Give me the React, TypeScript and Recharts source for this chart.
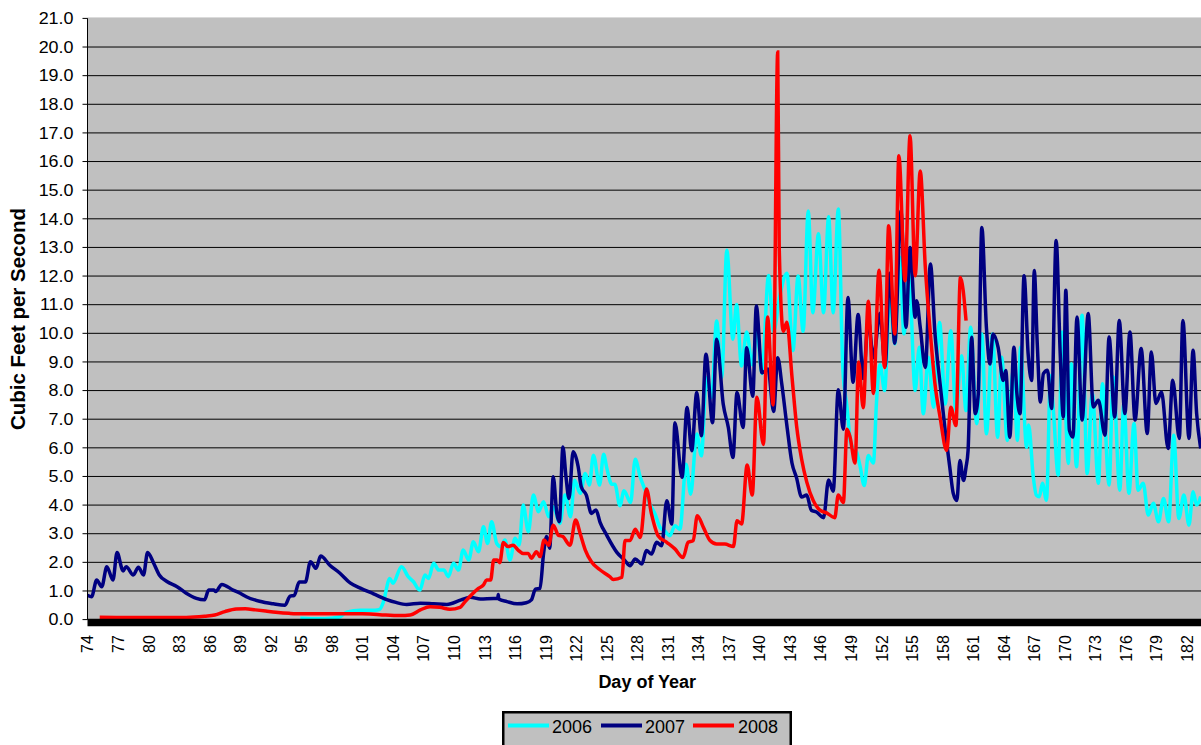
import React from 'react';
import { LineChart, Line, XAxis, YAxis, CartesianGrid, Legend, ReferenceLine } from 'recharts';

const FONT = '"Liberation Sans", Arial, Helvetica, sans-serif';

// x-axis tick labels (day of year) and y-axis ticks (cfs)
const dayTicks = [74, 77, 80, 83, 86, 89, 92, 95, 98, 101, 104, 107, 110, 113, 116, 119, 122, 125, 128, 131, 134, 137, 140, 143, 146, 149, 152, 155, 158, 161, 164, 167, 170, 173, 176, 179, 182];
const cfsTicks = [0, 1, 2, 3, 4, 5, 6, 7, 8, 9, 10, 11, 12, 13, 14, 15, 16, 17, 18, 19, 20, 21];
const dayDomain: [number, number] = [74, 183.38];
const cfsMax = 21;

// [day of year, cubic feet per second]
const flow2006: [number, number][] = [
  [94.9, 0.05], [96.5, 0.03], [98.0, 0.05], [98.8, 0.1], [99.45, 0.26], [100.8, 0.33], [102.25, 0.33], [102.7, 0.36],
  [103.05, 0.6], [103.7, 1.44], [104.0, 1.27], [104.85, 1.85], [105.5, 1.5], [106.0, 1.33], [106.65, 1.03], [107.15, 1.56],
  [107.5, 1.44], [108.0, 1.97], [108.5, 1.73], [109.0, 1.73], [109.45, 1.5], [109.95, 1.97], [110.45, 1.73], [110.9, 2.43],
  [111.45, 2.08], [111.9, 2.72], [112.4, 2.37], [112.9, 3.24], [113.3, 2.66], [113.7, 3.42], [114.2, 2.66], [114.6, 2.55],
  [115.0, 2.78], [115.5, 2.08], [116.0, 2.84], [116.4, 2.6], [116.8, 4.0], [117.3, 3.07], [117.8, 4.35], [118.3, 3.77],
  [118.8, 4.12], [119.3, 3.59], [119.75, 3.94], [120.4, 3.36], [120.9, 4.35], [121.45, 3.59], [121.85, 4.87], [122.4, 4.41],
  [122.9, 5.1], [123.3, 4.7], [123.7, 5.74], [124.3, 4.7], [124.7, 5.78], [125.0, 5.31], [125.5, 4.73], [125.8, 4.73],
  [126.3, 3.98], [126.7, 4.5], [127.35, 4.09], [127.8, 5.6], [128.3, 4.97], [128.8, 4.5], [129.25, 4.03], [129.75, 3.69],
  [130.25, 3.22], [130.7, 3.1], [131.2, 2.93], [131.7, 3.28], [132.2, 3.16], [132.8, 5.43], [133.25, 4.38], [133.85, 6.48],
  [134.3, 5.72], [134.8, 8.45], [135.3, 7.76], [135.8, 10.43], [136.3, 8.45], [136.8, 12.9], [137.4, 9.79], [137.75, 11.01],
  [138.25, 8.86], [138.75, 10.05], [139.3, 8.9], [139.75, 10.1], [140.25, 8.6], [140.9, 12.02], [141.4, 10.07], [142.0, 11.3],
  [142.7, 12.1], [143.3, 9.4], [143.8, 12.0], [144.3, 10.07], [144.8, 14.27], [145.25, 10.72], [145.8, 13.48], [146.3, 10.72],
  [146.8, 14.07], [147.25, 10.72], [147.75, 14.34], [148.2, 8.75], [148.6, 7.44], [149.0, 6.12], [149.55, 5.86], [149.9, 5.34],
  [150.3, 4.68], [150.7, 5.73], [151.2, 5.47], [151.5, 7.57], [151.85, 8.9], [152.3, 8.0], [152.8, 11.37], [153.3, 9.63],
  [153.8, 12.65], [154.2, 9.98], [154.7, 12.07], [155.3, 8.0], [155.7, 9.51], [156.1, 7.19], [156.6, 9.16], [157.1, 7.42],
  [157.7, 10.38], [158.25, 7.53], [158.8, 10.09], [159.3, 7.3], [159.85, 9.22], [160.3, 7.3], [160.75, 10.21], [161.35, 6.84],
  [161.85, 9.98], [162.3, 6.49], [162.9, 9.98], [163.4, 6.37], [163.8, 9.16], [164.35, 6.26], [164.95, 8.7], [165.35, 6.26],
  [165.65, 9.51], [166.25, 6.02], [166.45, 6.8], [166.9, 5.0], [167.2, 4.35], [167.5, 4.29], [167.8, 4.76], [168.2, 4.17],
  [168.6, 8.53], [168.9, 7.2], [169.35, 5.05], [169.75, 10.05], [170.35, 5.45], [170.65, 8.94], [171.15, 5.34], [171.7, 10.63],
  [172.2, 5.1], [172.7, 7.9], [173.3, 4.76], [173.7, 8.24], [174.35, 4.7], [174.75, 8.48], [175.4, 4.52], [175.8, 7.55],
  [176.3, 4.41], [176.8, 6.85], [177.2, 4.52], [177.7, 4.76], [178.2, 3.65], [178.7, 4.06], [179.2, 3.42], [179.7, 4.23],
  [180.2, 3.42], [180.7, 6.44], [181.2, 3.53], [181.7, 4.35], [182.2, 3.3], [182.6, 4.47], [182.95, 4.0], [183.35, 4.3],
];

const flow2007: [number, number][] = [
  [74.0, 0.85], [74.4, 0.8], [74.9, 1.38], [75.4, 1.15], [75.9, 1.85], [76.5, 1.38], [76.9, 2.34], [77.5, 1.7],
  [77.8, 1.85], [78.5, 1.56], [79.0, 1.83], [79.5, 1.56], [79.9, 2.34], [80.5, 1.97], [81.05, 1.56], [81.8, 1.33],
  [82.8, 1.15], [83.7, 0.92], [84.7, 0.74], [85.5, 0.69], [85.9, 1.03], [86.4, 1.03], [86.6, 0.98], [87.2, 1.23],
  [88.3, 1.03], [89.0, 0.92], [89.6, 0.8], [90.9, 0.64], [92.25, 0.55], [93.4, 0.5], [93.9, 0.82], [94.3, 0.84],
  [94.8, 1.31], [95.4, 1.31], [95.9, 2.02], [96.45, 1.79], [96.9, 2.22], [97.8, 1.9], [98.8, 1.62], [99.8, 1.28],
  [100.8, 1.1], [102.1, 0.9], [103.4, 0.7], [104.3, 0.6], [105.35, 0.53], [106.7, 0.57], [108.0, 0.55], [109.3, 0.53],
  [110.7, 0.69], [111.6, 0.78], [112.6, 0.72], [113.9, 0.74], [114.3, 0.74], [114.35, 0.88], [114.4, 0.72], [115.2, 0.63],
  [116.2, 0.55], [117.1, 0.59], [117.6, 0.69], [118.0, 1.06], [118.45, 1.09], [118.8, 2.31], [119.1, 2.9], [119.4, 2.49],
  [119.75, 4.99], [120.1, 3.71], [120.35, 3.42], [120.7, 6.03], [121.0, 5.0], [121.3, 4.23], [121.7, 5.86], [122.2, 5.34],
  [122.5, 4.64], [123.0, 4.35], [123.5, 3.71], [123.95, 3.83], [124.35, 3.4], [125.0, 2.95], [126.0, 2.35], [126.8, 2.06],
  [127.3, 1.88], [127.8, 2.12], [128.45, 1.94], [128.9, 2.41], [129.4, 2.29], [129.9, 2.7], [130.4, 2.58], [130.9, 4.15],
  [131.4, 3.34], [131.7, 6.88], [132.4, 4.97], [132.9, 7.41], [133.35, 5.9], [133.85, 7.93], [134.3, 6.42], [134.75, 9.27],
  [135.4, 6.88], [135.8, 9.79], [136.45, 7.52], [136.95, 6.71], [137.4, 5.66], [137.8, 7.93], [138.4, 6.71], [138.75, 9.5],
  [139.35, 7.8], [139.7, 10.95], [140.25, 8.62], [140.85, 8.75], [141.4, 7.27], [141.8, 9.15], [142.2, 8.23], [142.7, 6.78],
  [143.2, 5.47], [143.65, 4.95], [144.15, 4.28], [144.65, 4.35], [145.1, 3.82], [145.6, 3.76], [146.3, 3.56], [146.8, 4.88],
  [147.25, 4.48], [147.75, 8.03], [148.25, 6.65], [148.7, 11.25], [149.2, 8.29], [149.7, 10.66], [150.2, 8.42], [150.7, 10.46],
  [151.2, 9.15], [151.85, 10.7], [152.35, 8.85], [152.8, 12.1], [153.3, 9.65], [153.9, 14.28], [154.4, 10.21], [154.8, 13.0],
  [155.3, 10.56], [155.45, 11.14], [155.8, 10.21], [156.3, 8.81], [156.8, 12.42], [157.25, 9.98], [157.75, 8.23], [158.25, 6.6],
  [158.7, 5.33], [159.05, 4.4], [159.4, 4.16], [159.7, 5.56], [160.05, 4.86], [160.3, 5.33], [160.5, 5.91], [160.85, 9.86],
  [161.2, 7.19], [161.5, 7.88], [161.85, 13.7], [162.3, 10.21], [162.65, 8.93], [162.95, 9.98], [163.45, 9.51], [163.95, 8.35],
  [164.2, 8.7], [164.6, 6.37], [165.0, 9.51], [165.3, 7.88], [165.6, 7.19], [166.0, 12.01], [166.4, 9.28], [166.75, 8.35],
  [167.0, 12.19], [167.3, 9.6], [167.6, 7.6], [167.9, 8.59], [168.3, 8.71], [168.7, 7.37], [169.15, 13.24], [169.55, 9.29],
  [169.85, 7.08], [170.1, 11.5], [170.45, 6.62], [170.8, 6.38], [171.2, 10.57], [171.7, 6.97], [172.3, 10.69], [172.8, 7.43],
  [173.3, 7.66], [173.95, 6.44], [174.35, 9.87], [174.9, 7.08], [175.35, 10.45], [175.9, 7.2], [176.4, 10.05], [176.9, 6.97],
  [177.5, 9.47], [178.1, 6.5], [178.5, 9.35], [178.95, 7.55], [179.5, 7.95], [180.15, 5.98], [180.6, 8.36], [181.25, 6.33],
  [181.6, 10.45], [182.2, 6.33], [182.6, 9.41], [182.95, 7.2], [183.35, 5.98],
];

const flow2008: [number, number][] = [
  [75.2, 0.08], [78.0, 0.07], [81.0, 0.07], [83.0, 0.07], [84.5, 0.09], [85.5, 0.12], [86.5, 0.16], [87.5, 0.28],
  [88.6, 0.37], [89.5, 0.38], [90.5, 0.34], [91.5, 0.3], [92.5, 0.26], [93.8, 0.22], [95.0, 0.2], [97.0, 0.2],
  [99.0, 0.2], [101.0, 0.2], [102.7, 0.17], [104.7, 0.14], [105.7, 0.16], [106.7, 0.34], [107.65, 0.45], [108.6, 0.43],
  [109.6, 0.36], [110.6, 0.43], [111.1, 0.63], [111.7, 0.86], [112.4, 1.09], [112.9, 1.21], [113.2, 1.38], [113.6, 1.38],
  [113.9, 2.08], [114.25, 2.08], [114.5, 1.99], [114.85, 2.69], [115.3, 2.55], [115.8, 2.6], [116.3, 2.43], [116.8, 2.31],
  [117.3, 2.31], [117.6, 2.14], [118.1, 2.37], [118.45, 2.2], [118.85, 2.78], [119.3, 2.6], [119.75, 3.3], [120.25, 2.95],
  [120.7, 2.9], [121.4, 2.6], [121.95, 3.48], [122.4, 3.0], [122.9, 2.43], [123.5, 2.02], [124.3, 1.75], [125.3, 1.5],
  [125.65, 1.4], [126.5, 1.48], [126.8, 2.76], [127.3, 2.76], [127.8, 3.16], [128.3, 2.87], [128.9, 4.56], [129.4, 3.69],
  [130.05, 2.93], [130.9, 2.7], [131.7, 2.47], [132.5, 2.17], [133.0, 2.7], [133.5, 2.76], [133.9, 3.63], [134.5, 3.22],
  [135.15, 2.76], [135.8, 2.64], [136.6, 2.64], [137.45, 2.55], [137.8, 3.45], [138.25, 3.34], [138.8, 5.4], [139.3, 4.35],
  [139.75, 7.77], [140.4, 6.12], [140.8, 10.57], [141.35, 7.5], [141.8, 19.83], [141.95, 12.96], [142.35, 10.07], [142.7, 10.39],
  [143.2, 8.49], [143.65, 6.78], [144.15, 5.6], [144.65, 4.81], [145.3, 4.15], [145.95, 3.82], [146.6, 3.73], [147.4, 3.56],
  [147.75, 4.35], [148.25, 4.09], [148.6, 6.65], [148.9, 6.39], [149.4, 5.47], [149.75, 9.0], [150.2, 7.4], [150.7, 11.12],
  [151.2, 7.9], [151.75, 12.2], [152.3, 8.81], [152.7, 13.76], [153.3, 9.98], [153.7, 16.2], [154.3, 11.84], [154.8, 16.9],
  [155.3, 12.01], [155.8, 15.67], [156.3, 12.3], [156.8, 9.98], [157.25, 8.23], [157.75, 7.07], [158.4, 5.91], [158.8, 7.42],
  [159.3, 6.78], [159.75, 11.95], [160.3, 10.44],
];

const toRows = (pts: [number, number][]) => pts.map(([day, cfs]) => ({ day, cfs }));

const series = [
  { name: '2006', color: '#00FFFF', rows: toRows(flow2006) },
  { name: '2007', color: '#000080', rows: toRows(flow2007) },
  { name: '2008', color: '#FF0000', rows: toRows(flow2008) },
];

const XTick = (props: any) => {
  const { x, y, payload } = props;
  const tx = x + 6;
  const ty = y + 15.5;
  return (
    <text x={tx} y={ty} transform={`rotate(-90 ${tx} ${ty})`} textAnchor="end" fontSize={16} fontFamily={FONT} fill="#000">
      {payload.value}
    </text>
  );
};

const YTick = (props: any) => {
  const { x, y, payload } = props;
  return (
    <g transform={`translate(${x} ${y}) scale(1.12 1)`}>
      <text x={0} y={0} dy="0.36em" textAnchor="end" fontSize={16} fontFamily={FONT} fill="#000">
        {Number(payload.value).toFixed(1)}
      </text>
    </g>
  );
};

const YLabel = (props: any) => {
  const vb = props.viewBox || { x: 0, y: 18.4, width: 87.5, height: 601.2 };
  const cx = vb.x + 24.5;
  const cy = vb.y + vb.height / 2;
  return (
    <text x={cx} y={cy} transform={`rotate(-90 ${cx} ${cy})`} textAnchor="middle" fontSize={20.5} fontWeight="bold" fontFamily={FONT} fill="#000">
      Cubic Feet per Second
    </text>
  );
};

const XLabel = (props: any) => {
  const vb = props.viewBox || { x: 87.5, y: 619.6, width: 1113.5, height: 125.4 };
  const cx = vb.x + vb.width / 2 + 3;
  const cy = vb.y + 68.5;
  return (
    <text x={cx} y={cy} textAnchor="middle" fontSize={18} fontWeight="bold" fontFamily={FONT} fill="#000">
      Day of Year
    </text>
  );
};

const LegendBox = () => {
  const items = [
    { s: series[0], lx: 6, tx: 50 },
    { s: series[1], lx: 99, tx: 143 },
    { s: series[2], lx: 191, tx: 236 },
  ];
  return (
    <svg width={290} height={34} style={{ display: 'block' }}>
      <rect x={1.25} y={1.25} width={287.5} height={40} fill="#C0C0C0" stroke="#000" strokeWidth={2.5} />
      {items.map((it) => (
        <g key={it.s.name}>
          <line x1={it.lx} x2={it.lx + 41} y1={14.5} y2={14.5} stroke={it.s.color} strokeWidth={4} />
          <text x={it.tx} y={22} fontSize={18} fontFamily={FONT} fill="#000">
            {it.s.name}
          </text>
        </g>
      ))}
    </svg>
  );
};

export default function App() {
  return (
    <div style={{ width: 1201, height: 745, overflow: 'hidden', position: 'relative', background: '#fff' }}>
      <style>{`html,body{margin:0;padding:0;overflow:hidden;background:#fff}`}</style>
      <LineChart width={1201} height={745} margin={{ top: 18.4, right: 0, bottom: 0, left: 0 }}>
        <CartesianGrid horizontal vertical={false} stroke="#000" strokeWidth={1} fill="#C0C0C0" fillOpacity={1} />
        <XAxis
          type="number"
          dataKey="day"
          domain={dayDomain}
          ticks={dayTicks}
          interval={0}
          allowDataOverflow
          height={125.4}
          tickSize={0}
          tickMargin={0}
          tickLine={false}
          tick={<XTick />}
          axisLine={{ stroke: '#000', strokeWidth: 7.5, transform: 'translate(0,3)' }}
          label={<XLabel />}
        />
        <YAxis
          type="number"
          dataKey="cfs"
          domain={[0, cfsMax]}
          ticks={cfsTicks}
          interval={0}
          allowDataOverflow
          width={87.5}
          tickSize={5}
          tickMargin={9}
          tickLine={{ stroke: '#000', strokeWidth: 1 }}
          axisLine={{ stroke: '#000', strokeWidth: 1 }}
          tick={<YTick />}
          label={<YLabel />}
        />
        <ReferenceLine y={cfsMax} stroke="#C0C0C0" strokeWidth={1.5} ifOverflow="extendDomain" />
        <Legend
          layout="horizontal"
          verticalAlign="middle"
          align="center"
          wrapperStyle={{ position: 'absolute', left: 502, top: 711, width: 290, height: 34 }}
          content={<LegendBox />}
        />
        {series.map((s) => (
          <Line
            key={s.name}
            data={s.rows}
            dataKey="cfs"
            name={s.name}
            type="monotone"
            stroke={s.color}
            strokeWidth={3.5}
            dot={false}
            activeDot={false}
            isAnimationActive={false}
            connectNulls={false}
          />
        ))}
      </LineChart>
    </div>
  );
}
